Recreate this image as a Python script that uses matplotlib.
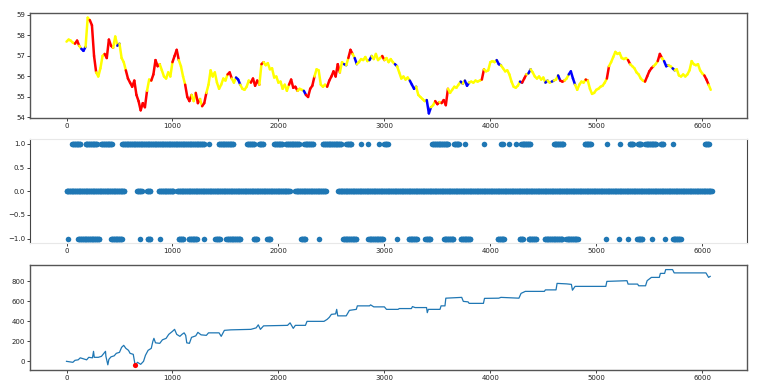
import numpy as np
import matplotlib
matplotlib.use("Agg")
import matplotlib.pyplot as plt
from matplotlib.collections import LineCollection

# ---------------- data ----------------
price_x = list(range(0, 6081, 20))
price_y = [
    57.7, 57.8, 57.75, 57.65, 57.6, 57.75, 57.5, 57.35, 57.25, 57.45,
    58.87, 58.75, 58.5, 57.0, 56.2, 56.0, 56.4, 57.0, 57.1, 56.9,
    57.8, 57.5, 57.4, 57.95, 57.5, 57.6, 56.9, 56.7, 56.3, 55.9,
    55.7, 55.5, 55.8, 55.1, 54.8, 54.35, 54.7, 54.5, 55.3, 55.85,
    55.8, 56.1, 56.8, 56.5, 56.6, 56.3, 56.0, 55.9, 56.2, 56.0,
    56.7, 57.0, 57.3, 56.8, 56.5, 56.0, 55.6, 55.0, 54.8, 55.1,
    54.8, 55.2, 54.7, 54.9, 54.55, 54.7, 55.2, 55.6, 56.3, 56.0,
    56.2, 55.7, 55.4, 55.6, 55.9, 55.8, 56.1, 56.2, 55.9, 55.7,
    55.95, 55.85, 55.6, 55.4, 55.35, 55.5, 55.8, 55.7, 55.9, 55.55,
    55.8, 55.6, 56.6, 56.7, 56.55, 56.65, 56.35, 56.4, 55.95, 56.0,
    55.7, 55.75, 55.4, 55.6, 55.3, 55.6, 55.85, 55.45, 55.5, 55.3,
    55.4, 55.35, 55.3, 55.1, 55.0, 55.4, 55.55, 56.0, 56.35, 56.3,
    55.6, 55.5, 55.6, 55.5, 55.8, 56.0, 56.25, 56.0, 56.6, 56.2,
    56.7, 56.6, 56.55, 56.9, 57.3, 57.1, 56.9, 56.6, 56.7, 56.85,
    56.8, 56.95, 56.75, 56.8, 57.0, 56.85, 57.1, 56.8, 56.9, 57.0,
    56.8, 56.9, 56.7, 56.85, 56.7, 56.6, 56.5, 56.2, 55.9, 56.0,
    55.85, 55.95, 55.8, 55.6, 55.4, 55.5, 55.1, 55.0, 54.9, 54.8,
    54.85, 54.2, 54.5, 54.6, 54.8, 54.65, 54.75, 54.7, 54.85, 54.6,
    55.4, 55.2, 55.35, 55.5, 55.45, 55.6, 55.75, 55.65, 55.8, 55.55,
    55.7, 55.75, 55.7, 55.8, 55.75, 55.8, 55.85, 56.35, 56.25, 56.3,
    56.7, 56.75, 56.7, 56.8, 56.6, 56.55, 56.4, 56.25, 56.3, 56.1,
    55.75, 55.5, 55.45, 55.55, 55.75, 55.7, 55.9, 56.1, 56.15, 56.35,
    56.2, 56.0, 55.9, 56.0, 55.85, 55.95, 55.7, 55.8, 55.7, 55.75,
    55.8, 55.85, 56.05, 55.8, 55.75, 55.8, 55.9, 56.1, 56.25, 55.9,
    55.6, 55.35, 55.6, 55.75, 55.7, 55.85, 55.8, 55.4, 55.15, 55.2,
    55.35, 55.4, 55.5, 55.55, 55.7, 55.9, 56.5, 56.7, 56.95, 57.2,
    57.1, 57.15, 56.9, 56.85, 56.9, 56.8, 56.6, 56.5, 56.4, 56.2,
    56.1, 55.9, 55.8, 55.75, 56.0, 56.25, 56.4, 56.5, 56.6, 56.75,
    57.1, 56.9, 56.75, 56.5, 56.55, 56.5, 56.4, 56.3, 56.35, 56.05,
    56.0, 56.1, 56.0, 56.1, 56.3, 56.75, 56.6, 56.55, 56.6, 56.3,
    56.15, 56.05, 55.85, 55.6, 55.35]
price_state = ("yyyyrrybby" "yrrryyyyrr" "rryybyyyrr" "rrrrrrrryy"
               "rrrryyyyyy" "rrryyyrrry" "yrryrryyyy" "yyyyyyrryy"
               "bbyyyyyrrr" "ryryyyyyyy" "yyyyyrrrry" "yybrrrryyy"
               "yyyrrrrrry" "ybyrrybyyy" "yyybyyyyyr" "yyyyybyyyy"
               "yybbbyyyyy" "bbyyrryrrr" "yyyyyybybb" "yyyyyyryyy"
               "yyybbyyyyy" "yyyybrryby" "yyyyyybyyb" "yybrryybbb"
               "yyyyyryyyy" "yyyyyryyyy" "yyyyyryyyy" "yyyrrrryyr"
               "rybbyybyyy" "yyyyyyyyyy" "yrryy")

pos_runs = [(53, 132), (180, 290), (327, 431), (525, 1302), (1343, 1343),
            (1437, 1579), (1705, 1775), (1816, 1860), (1959, 2038),
            (2070, 2197), (2244, 2330), (2419, 2594), (2641, 2689),
            (2784, 2784), (2841, 2841), (2949, 2949), (3000, 3032),
            (3451, 3603), (3657, 3705), (3762, 3762), (3943, 3943),
            (4104, 4120), (4173, 4173), (4245, 4245), (4292, 4380),
            (4600, 4695), (4890, 4953), (5104, 5104), (5220, 5220),
            (5315, 5346), (5393, 5425), (5462, 5566), (5607, 5635),
            (5723, 5723), (6028, 6069)]
neg_runs = [(16, 16), (110, 311), (421, 525), (692, 692), (767, 793),
            (887, 887), (1060, 1107), (1154, 1233), (1302, 1302),
            (1406, 1453), (1510, 1642), (1768, 1800), (1895, 1927),
            (2213, 2260), (2387, 2387), (2610, 2737), (2848, 2990),
            (3118, 3118), (3229, 3308), (3387, 3435), (3562, 3657),
            (3721, 3816), (4070, 4133), (4277, 4308), (4361, 4434),
            (4513, 4686), (4717, 4827), (5094, 5094), (5211, 5211),
            (5299, 5299), (5387, 5440), (5528, 5528), (5645, 5645),
            (5723, 5796)]
zero_runs = [(0, 547), (667, 714), (761, 793), (871, 1013), (1044, 2111),
             (2159, 2450), (2562, 6091)]

pnl_x = [0, 30, 60, 80, 110, 130, 160, 190, 210, 245, 255, 262, 300, 330, 368,
         372, 390, 400, 420, 450, 470, 500, 520, 540, 560, 585, 600, 630, 648,
         670, 700, 727, 745, 770, 800, 815, 825, 840, 880, 905, 940, 965, 1000,
         1020, 1040, 1070, 1090, 1110, 1125, 1135, 1160, 1180, 1220, 1240,
         1270, 1320, 1340, 1440, 1460, 1490, 1550, 1740, 1790, 1810, 1830,
         1860, 2086, 2110, 2140, 2160, 2255, 2270, 2430, 2460, 2480, 2500,
         2540, 2550, 2560, 2640, 2670, 2735, 2745, 2860, 2870, 2900, 3000,
         3020, 3130, 3140, 3255, 3265, 3290, 3398, 3405, 3415, 3525, 3535,
         3572, 3580, 3730, 3745, 3790, 3800, 3935, 3945, 4080, 4100, 4270,
         4290, 4330, 4510, 4520, 4620, 4630, 4720, 4765, 4775, 4800, 5090,
         5100, 5290, 5300, 5390, 5400, 5465, 5480, 5520, 5595, 5605, 5645,
         5655, 5720, 5735, 6035, 6060, 6075]
pnl_y = [0, -5, -10, 10, 15, 35, 25, 15, 40, 35, 100, 40, 40, 50, 100,
         50, -35, 20, 45, 55, 80, 90, 140, 160, 130, 110, 80, 70, -40,
         -10, -30, 0, 60, 110, 130, 200, 230, 185, 180, 215, 230, 270, 300,
         320, 270, 250, 270, 285, 260, 185, 180, 240, 255, 290,
         265, 260, 285, 285, 250, 310, 315, 320, 335, 365, 320,
         355, 360, 385, 330, 360, 360, 400, 400, 420, 440, 470,
         475, 520, 455, 455, 510, 520, 555, 555, 565, 545, 545,
         520, 520, 528, 528, 548, 538, 538, 487, 520, 520, 555,
         555, 632, 640, 600, 595, 580, 580, 630, 632, 640, 632,
         680, 700, 700, 715, 715, 780, 775, 770, 712, 750, 750,
         800, 807, 773, 773, 756, 756, 807, 840, 840, 880, 880,
         918, 918, 885, 885, 840, 850]
min_x, min_y = 648, -40

# ---------------- figure ----------------
plt.rcParams['font.family'] = ['DejaVu Sans']
plt.rcParams['font.size'] = 5
fig = plt.figure(figsize=(7.68, 3.9), dpi=100)
L, W = 0.039, 0.934
ax1 = fig.add_axes([L, 0.697, W, 0.270])
ax2 = fig.add_axes([L, 0.376, W, 0.267])
ax3 = fig.add_axes([L, 0.051, W, 0.270])
XLIM = (-345, 6425)

cmap = {'y': '#ffff00', 'r': '#ff0000', 'b': '#0000ff'}
px = np.array(price_x, dtype=float)
py = np.array(price_y, dtype=float)
n = min(len(px), len(py))
px, py = px[:n], py[:n]
segs = np.stack([np.column_stack([px[:-1], py[:-1]]),
                 np.column_stack([px[1:], py[1:]])], axis=1)
states = price_state.ljust(n, 'y')
cols = [cmap[c] for c in states[:len(segs)]]
lc = LineCollection(segs, colors=cols, linewidths=1.8, capstyle='round')
ax1.add_collection(lc)
ax1.autoscale()
ax1.set_xlim(XLIM)

def run_points(runs):
    pts = []
    for a, b in runs:
        pts.extend(np.arange(a, b + 1, 6))
    return np.array(pts, dtype=float)

for runs, lvl in ((zero_runs, 0.0), (pos_runs, 1.0), (neg_runs, -1.0)):
    xs = run_points(runs)
    ax2.scatter(xs, np.full_like(xs, lvl), s=16, color='#1f77b4', linewidths=0)
ax2.set_xlim(XLIM)
ax2.set_ylim(-1.1, 1.1)
ax2.set_yticks([-1.0, -0.5, 0.0, 0.5, 1.0])
for s in ('top', 'bottom'):
    ax2.spines[s].set_color('#e8e8e8')
for s in ('left', 'right'):
    ax2.spines[s].set_color('#444444')

ax3.plot(pnl_x, pnl_y, color='#1f77b4', lw=0.9)
ax3.scatter([min_x], [min_y], s=14, color='red', zorder=3, linewidths=0)
ax3.set_xlim(XLIM)
ax3.set_yticks([0, 200, 400, 600, 800])

for ax in (ax1, ax3):
    for s in ax.spines.values():
        s.set_color('#555555')
        s.set_linewidth(1.0)
for ax in (ax1, ax2, ax3):
    ax.set_xticks([0, 1000, 2000, 3000, 4000, 5000, 6000])
    ax.tick_params(length=2, width=0.6, pad=1.5, labelsize=5, colors='#222222')

fig.savefig('out.png', dpi=100)
